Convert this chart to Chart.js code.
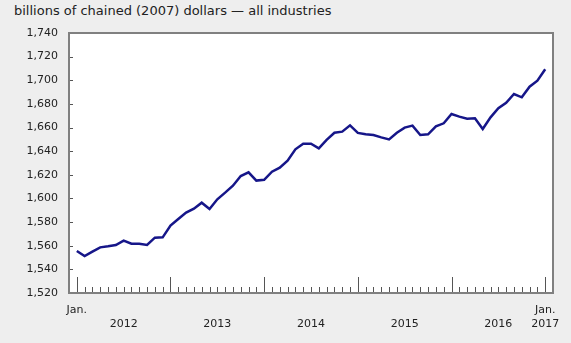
<!DOCTYPE html>
<html>
<head>
<meta charset="utf-8">
<script src="https://cdn.jsdelivr.net/npm/chart.js@4/dist/chart.umd.min.js"></script>
<style>
html, body { margin: 0; padding: 0; background: #eeeeee; }
#wrap { position: relative; width: 571px; height: 343px; }
#title { position: absolute; left: 14px; top: 3px; font: 13px "DejaVu Sans", Verdana, sans-serif; color: #222; }
canvas { position: absolute; left: 0; top: 0; }
</style>
</head>
<body>
<div id="wrap">
  <div id="title">billions of chained (2007) dollars — all industries</div>
  <canvas id="gdpChart" width="571" height="343"></canvas>
</div>
<script>
// monthly GDP, all industries, Jan. 2012 to Jan. 2017
var years = [2012, 2013, 2014, 2015, 2016, 2017];
var gdp = [
  1555.5, 1551.3, 1555.0, 1558.6, 1559.5, 1560.6, 1564.3, 1561.7, 1561.7, 1560.6, 1566.8, 1567.1,
  1577.0, 1582.6, 1588.0, 1591.3, 1596.4, 1591.0, 1599.3, 1604.9, 1610.8, 1619.0, 1622.1, 1615.1,
  1615.8, 1622.6, 1626.0, 1632.0, 1641.6, 1646.3, 1646.3, 1642.4, 1649.5, 1655.6, 1656.5, 1661.9,
  1655.5, 1654.3, 1653.7, 1651.7, 1650.0, 1655.6, 1659.9, 1661.6, 1653.7, 1654.3, 1661.0, 1663.6,
  1671.5, 1669.2, 1667.5, 1667.8, 1658.8, 1668.6, 1676.3, 1681.0, 1688.4, 1685.6, 1694.6, 1699.6,
  1709.3
];
var yTicks = [1520, 1540, 1560, 1580, 1600, 1620, 1640, 1660, 1680, 1700, 1720, 1740];

var points = gdp.map(function(v, i) { return { x: i, y: v }; });

// white plot area, grey frame and the short inward tick marks
var frame = {
  id: 'frame',
  beforeDatasetsDraw: function(chart) {
    var a = chart.chartArea, ctx = chart.ctx;
    ctx.save();
    ctx.fillStyle = '#ffffff';
    ctx.fillRect(a.left, a.top, a.right - a.left, a.bottom - a.top);
    var xs = chart.scales.x, ys = chart.scales.y;
    ctx.strokeStyle = '#555555';
    ctx.lineWidth = 1;
    ctx.beginPath();
    for (var m = 0; m < gdp.length; m++) {
      var px = Math.round(xs.getPixelForValue(m)) + 0.5;
      var len = (m % 12 === 0) ? 16 : 6;
      ctx.moveTo(px, a.bottom);
      ctx.lineTo(px, a.bottom - len);
    }
    yTicks.forEach(function(t) {
      var py = Math.round(ys.getPixelForValue(t)) + 0.5;
      ctx.moveTo(a.left, py);
      ctx.lineTo(a.left + 4, py);
    });
    ctx.stroke();
    ctx.restore();
  },
  afterDraw: function(chart) {
    var a = chart.chartArea, ctx = chart.ctx;
    ctx.save();
    ctx.strokeStyle = '#808080';
    ctx.lineWidth = 2;
    ctx.strokeRect(a.left, a.top, a.right - a.left, a.bottom - a.top);
    ctx.restore();
  }
};

new Chart(document.getElementById('gdpChart'), {
  type: 'line',
  data: {
    datasets: [{
      data: points,
      borderColor: '#161689',
      borderWidth: 2.5,
      pointRadius: 0,
      tension: 0,
      fill: false
    }]
  },
  options: {
    responsive: false,
    animation: false,
    layout: { padding: { left: 0, right: 18, top: 33, bottom: 0 } },
    plugins: { legend: { display: false }, tooltip: { enabled: false } },
    scales: {
      x: {
        type: 'linear',
        min: -1,
        max: 61,
        afterFit: function(s) { s.height = 50; },
        afterBuildTicks: function(s) {
          var t = [{ value: 0 }];
          for (var i = 0; i < years.length - 1; i++) t.push({ value: i * 12 + 6 });
          t.push({ value: (years.length - 1) * 12 });
          s.ticks = t;
        },
        grid: { display: false, drawTicks: false },
        border: { display: false },
        ticks: {
          autoSkip: false,
          maxRotation: 0,
          padding: 10,
          color: '#222',
          font: { family: 'DejaVu Sans', size: 11, lineHeight: 1.27 },
          callback: function(v) {
            if (v === 0) return 'Jan.';
            if (v === (years.length - 1) * 12) return ['Jan.', String(years[years.length - 1])];
            return ['', String(years[(v - 6) / 12])];
          }
        }
      },
      y: {
        min: 1520,
        max: 1740,
        afterFit: function(s) { s.width = 69; },
        afterBuildTicks: function(s) {
          s.ticks = yTicks.map(function(v) { return { value: v }; });
        },
        grid: { display: false, drawTicks: false },
        border: { display: false },
        ticks: {
          padding: 11,
          color: '#222',
          font: { family: 'DejaVu Sans', size: 11 },
          callback: function(v) { return v.toLocaleString('en-US'); }
        }
      }
    }
  },
  plugins: [frame]
});
</script>
</body>
</html>
